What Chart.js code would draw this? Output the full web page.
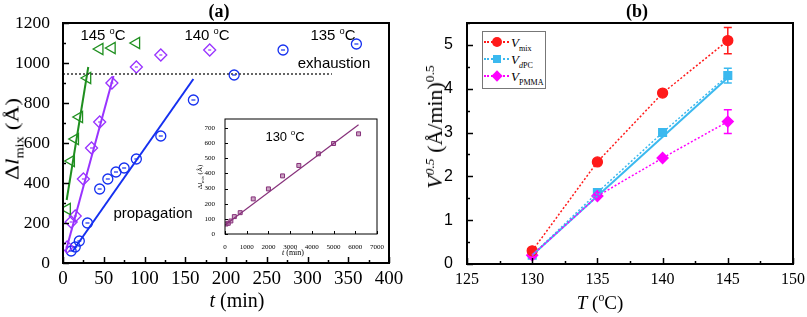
<!DOCTYPE html>
<html>
<head>
<meta charset="utf-8">
<script src="https://cdn.jsdelivr.net/npm/chart.js@4.4.0/dist/chart.umd.min.js"></script>
<style>
  html, body { margin: 0; padding: 0; background: #fff; }
  #wrap { position: relative; width: 807px; height: 317px; overflow: hidden; }
  canvas { position: absolute; }
  .t { position: absolute; transform: translate(-50%, -50%); white-space: nowrap; line-height: 1; color: #000; }
  .rot { transform: translate(-50%, -50%) rotate(-90deg); }
  .serif { font-family: "Liberation Serif", "DejaVu Serif", serif; }
  .sans { font-family: "Liberation Sans", Arial, sans-serif; }
  sup, sub { font-size: 62%; line-height: 0; }
  #legB { position: absolute; left: 482px; top: 31px; width: 62px; height: 56px; border: 1px solid #777; background: #fff; }
  .row { position: absolute; left: 0; width: 62px; height: 16px; }
  .dl { position: absolute; left: 1px; top: 7px; width: 25px; border-top: 2px dotted; }
  .mk { position: absolute; }
  .lt { position: absolute; left: 28px; top: 1px; font: 13px "Liberation Serif", serif; }
</style>
</head>
<body>
<div id="wrap">
  <canvas id="chartA" style="left:0;top:0" width="420" height="317"></canvas>
  <canvas id="chartB" style="left:400px;top:0" width="407" height="317"></canvas>
  <canvas id="inset" style="left:195px;top:110px" width="192" height="150"></canvas>

  <div class="t serif" style="left:219px;top:11px;font-size:18px;font-weight:bold">(a)</div>
  <div class="t serif" style="left:637px;top:11px;font-size:18px;font-weight:bold">(b)</div>

  <div class="t sans" style="left:103px;top:34px;font-size:15px">145 <sup>o</sup>C</div>
  <div class="t sans" style="left:207px;top:34px;font-size:15px">140 <sup>o</sup>C</div>
  <div class="t sans" style="left:333px;top:34px;font-size:15px">135 <sup>o</sup>C</div>
  <div class="t sans" style="left:334px;top:62px;font-size:15px">exhaustion</div>
  <div class="t sans" style="left:153px;top:212px;font-size:15px">propagation</div>
  <div class="t sans" style="left:285px;top:136px;font-size:13px">130 <sup>o</sup>C</div>

  <div class="t serif" style="left:237px;top:300px;font-size:20px"><i>t</i> (min)</div>
  <div class="t serif rot" data-len="82" style="left:12px;top:139px;font-size:19px">&Delta;<i>l</i><sub>mix</sub> (&Aring;)</div>
  <div class="t serif" style="left:293px;top:253px;font-size:8px"><i>t</i> (min)</div>
  <div class="t serif rot" style="left:200px;top:177px;font-size:7px">&Delta;<i>l</i><sub>mix</sub> (&Aring;)</div>

  <div class="t serif" style="left:600px;top:302px;font-size:19px"><i>T</i> (<sup>o</sup>C)</div>
  <div class="t serif rot" data-len="124" style="left:435px;top:127px;font-size:20px"><i>V</i><sup><i>0.5</i></sup> (&Aring;/min)<sup>0.5</sup></div>

  <div id="legB"></div>
</div>

<script>
// ---- panel (a): delta l_mix vs t ----
const t145 = [5, 10, 15, 20, 30, 45, 60, 90];
const l145 = [270, 510, 620, 730, 925, 1070, 1075, 1100];
const t140 = [5, 10, 15, 25, 35, 45, 60, 90, 120, 180];
const l140 = [80, 205, 235, 420, 575, 705, 900, 980, 1040, 1065];
const t135 = [10, 15, 20, 30, 45, 55, 65, 75, 90, 120, 160, 210, 270, 360];
const l135 = [60, 80, 110, 200, 370, 420, 455, 475, 520, 635, 815, 940, 1065, 1095];

// linear fits + exhaustion level
const fit145T = [4.5, 31], fit145L = [315, 980];
const fit140T = [3.5, 62], fit140L = [60, 935];
const fit135T = [12, 160], fit135L = [60, 920];
const exhaustT = [0, 330], exhaustL = [945, 945];

// inset 130 C
const t130 = [50, 150, 270, 430, 700, 1300, 2000, 2650, 3400, 4300, 5000, 6150];
const l130 = [66, 71, 86, 115, 141, 232, 298, 384, 453, 530, 598, 662];
const fit130T = [0, 6150], fit130L = [60, 722];

// ---- panel (b): V^0.5 vs T ----
const temps = [130, 135, 140, 145];
const vMix = [0.3, 2.33, 3.9, 5.1], vMixErr = [0, 0, 0, 0.3];
const vDPC = [0.2, 1.63, 3.0, 4.3], vDPCErr = [0, 0, 0, 0.17];
const vPMMA = [0.2, 1.55, 2.42, 3.25], vPMMAErr = [0, 0, 0, 0.27];
const fitDPCT = [130, 145], fitDPCV = [0.2, 4.25];

const GREEN = '#1f8f1f', PURPLE = '#9933ff', BLUE = '#1530f0', WINE = '#86307a';
const RED = '#ff1a1a', CYAN = '#3bb9ef', MAGENTA = '#ff00ff';

function xy(xs, ys){ return xs.map((x,i)=>({x:x, y:ys[i]})); }
function lineDs(xs, ys, color, width, dash){
  return {data: xy(xs, ys), showLine:true, borderColor:color, borderWidth:width, borderDash:dash||[], pointRadius:0, fill:false};
}
function ptsDs(xs, ys, o){
  return Object.assign({data: xy(xs, ys), showLine:false, pointBackgroundColor:'rgba(0,0,0,0)', pointBorderWidth:1.3}, o);
}

// box frame + inward major/minor ticks
const boxTicks = {
  id:'boxTicks',
  afterDraw(chart, args, o){
    const {ctx, chartArea:a, scales} = chart;
    ctx.save();
    ctx.strokeStyle = '#000';
    ctx.lineWidth = o.width;
    ctx.strokeRect(a.left, a.top, a.right-a.left, a.bottom-a.top);
    ctx.lineWidth = o.tickWidth || 1;
    const xs = scales.x, ys = scales.y;
    const isMajor = (v, m) => Math.abs(v/m - Math.round(v/m)) < 1e-6;
    for(let v = xs.min; v <= xs.max + 1e-9; v += o.xMinor){
      const px = Math.round(xs.getPixelForValue(v)) + 0.5;
      const len = isMajor(v, o.xMajor) ? o.major : o.minor;
      ctx.beginPath(); ctx.moveTo(px, a.bottom); ctx.lineTo(px, a.bottom-len); ctx.stroke();
    }
    for(let v = ys.min; v <= ys.max + 1e-9; v += o.yMinor){
      const py = Math.round(ys.getPixelForValue(v)) + 0.5;
      const len = isMajor(v, o.yMajor) ? o.major : o.minor;
      ctx.beginPath(); ctx.moveTo(a.left, py); ctx.lineTo(a.left+len, py); ctx.stroke();
    }
    ctx.restore();
  }
};

// the tiny bars inside the open symbols
const innerDash = {
  id:'innerDash',
  afterDatasetsDraw(chart){
    const ctx = chart.ctx;
    chart.data.datasets.forEach((ds, i)=>{
      if(!ds.innerDash) return;
      ctx.save(); ctx.strokeStyle = ds.pointBorderColor; ctx.lineWidth = 1.2;
      chart.getDatasetMeta(i).data.forEach(p=>{
        ctx.beginPath(); ctx.moveTo(p.x-ds.innerDash, p.y); ctx.lineTo(p.x+ds.innerDash, p.y); ctx.stroke();
      });
      ctx.restore();
    });
  }
};

// vertical error bars with caps
const errBars = {
  id:'errBars',
  afterDatasetsDraw(chart){
    const ctx = chart.ctx, ys = chart.scales.y;
    chart.data.datasets.forEach((ds, i)=>{
      if(!ds.errors) return;
      ctx.save(); ctx.strokeStyle = ds.pointBorderColor; ctx.lineWidth = 1.5;
      chart.getDatasetMeta(i).data.forEach((p, j)=>{
        const e = ds.errors[j]; if(!e) return;
        const y1 = ys.getPixelForValue(ds.data[j].y + e), y2 = ys.getPixelForValue(ds.data[j].y - e);
        ctx.beginPath();
        ctx.moveTo(p.x, y1); ctx.lineTo(p.x, y2);
        ctx.moveTo(p.x-4, y1); ctx.lineTo(p.x+4, y1);
        ctx.moveTo(p.x-4, y2); ctx.lineTo(p.x+4, y2);
        ctx.stroke();
      });
      ctx.restore();
    });
  }
};

const whiteBg = {
  id:'whiteBg',
  beforeDraw(chart){
    const {ctx, chartArea:a} = chart;
    ctx.save(); ctx.fillStyle = '#fff'; ctx.fillRect(a.left, a.top, a.right-a.left, a.bottom-a.top); ctx.restore();
  }
};

function axis(min, max, step, font, pad, fitFn){
  return {
    type:'linear', min:min, max:max,
    grid:{display:false}, border:{display:false},
    ticks:{stepSize:step, includeBounds:false, autoSkip:false, maxRotation:0, color:'#000', font:font, padding:pad,
      callback: v => String(v)},
    afterFit: fitFn
  };
}

// ---------- chart (a) ----------
new Chart(document.getElementById('chartA'), {
  type:'scatter',
  data:{datasets:[
    lineDs(exhaustT, exhaustL, '#333', 1.5, [2,2]),
    lineDs(fit145T, fit145L, GREEN, 2),
    lineDs(fit140T, fit140L, PURPLE, 2),
    lineDs(fit135T, fit135L, BLUE, 2),
    ptsDs(t145, l145, {pointStyle:'triangle', rotation:-90, pointRadius:6.5, pointBorderColor:GREEN}),
    ptsDs(t140, l140, {pointStyle:'rectRot', pointRadius:6, pointBorderColor:PURPLE, innerDash:1.5}),
    ptsDs(t135, l135, {pointStyle:'circle', pointRadius:5, pointBorderColor:BLUE, innerDash:2})
  ]},
  options:{
    responsive:false, animation:false,
    layout:{padding:{left:0, top:23, right:420-389, bottom:0}},
    plugins:{legend:{display:false}, tooltip:{enabled:false},
      boxTicks:{width:2, tickWidth:1.5, xMajor:50, xMinor:25, yMajor:200, yMinor:100, major:6, minor:3}},
    scales:{
      x: axis(0, 400, 50, {family:'Liberation Serif', size:19}, -3, s=>{ s.height = 317-263; s.paddingLeft = 0; s.paddingRight = 0; }),
      y: axis(0, 1200, 200, {family:'Liberation Serif', size:17.5}, 5, s=>{ s.width = 63; s.paddingTop = 0; s.paddingBottom = 0; })
    }
  },
  plugins:[boxTicks, innerDash]
});

// ---------- inset 130 C ----------
new Chart(document.getElementById('inset'), {
  type:'scatter',
  data:{datasets:[
    lineDs(fit130T, fit130L, WINE, 1.2),
    ptsDs(t130, l130, {pointStyle:'rect', pointRadius:2.8, pointBorderColor:WINE, pointBackgroundColor:'rgba(160,90,145,0.55)', pointBorderWidth:1})
  ]},
  options:{
    responsive:false, animation:false,
    layout:{padding:{left:0, top:9, right:10, bottom:0}},
    plugins:{legend:{display:false}, tooltip:{enabled:false},
      boxTicks:{width:1, tickWidth:1, xMajor:1000, xMinor:1000, yMajor:100, yMinor:100, major:3, minor:3}},
    scales:{
      x: axis(0, 7000, 1000, {family:'Liberation Serif', size:7}, 1, s=>{ s.height = 150-124; s.paddingLeft = 0; s.paddingRight = 0; }),
      y: axis(0, 760, 100, {family:'Liberation Serif', size:7}, 2, s=>{ s.width = 30; s.paddingTop = 0; s.paddingBottom = 0; })
    }
  },
  plugins:[whiteBg, boxTicks]
});

// ---------- chart (b) ----------
new Chart(document.getElementById('chartB'), {
  type:'scatter',
  data:{datasets:[
    lineDs(temps, vMix, RED, 1.5, [2,2]),
    lineDs(temps, vPMMA, MAGENTA, 1.5, [2,2]),
    lineDs(temps, vDPC, CYAN, 1.5, [2,2]),
    lineDs(fitDPCT, fitDPCV, CYAN, 2),
    ptsDs(temps, vMix, {pointStyle:'circle', pointRadius:5, pointBorderColor:RED, pointBackgroundColor:RED, errors:vMixErr}),
    ptsDs(temps, vPMMA, {pointStyle:'rectRot', pointRadius:5.5, pointBorderColor:MAGENTA, pointBackgroundColor:MAGENTA, errors:vPMMAErr}),
    ptsDs(temps, vDPC, {pointStyle:'rect', pointRadius:5.5, pointBorderColor:CYAN, pointBackgroundColor:CYAN, errors:vDPCErr})
  ]},
  options:{
    responsive:false, animation:false,
    layout:{padding:{left:0, top:23, right:407-393, bottom:0}},
    plugins:{legend:{display:false}, tooltip:{enabled:false},
      boxTicks:{width:2, tickWidth:1.5, xMajor:5, xMinor:2.5, yMajor:1, yMinor:0.5, major:6, minor:3}},
    scales:{
      x: axis(125, 150, 5, {family:'Liberation Serif', size:16}, -2, s=>{ s.height = 317-264; s.paddingLeft = 0; s.paddingRight = 0; }),
      y: axis(0, 5.5, 1, {family:'Liberation Sans', size:16}, 6, s=>{ s.width = 67; s.paddingTop = 0; s.paddingBottom = 0; })
    }
  },
  plugins:[boxTicks, errBars]
});

// ---------- legend (b) ----------
const legItems = [
  {color:RED, shape:'circle', label:'mix'},
  {color:CYAN, shape:'square', label:'<i>d</i>PC'},
  {color:MAGENTA, shape:'diamond', label:'PMMA'}
];
const legB = document.getElementById('legB');
legItems.forEach((it, i)=>{
  const row = document.createElement('div'); row.className = 'row'; row.style.top = (2 + i*17) + 'px';
  const dl = document.createElement('div'); dl.className = 'dl'; dl.style.borderTopColor = it.color;
  const mk = document.createElement('div'); mk.className = 'mk'; mk.style.background = it.color;
  if(it.shape === 'circle'){ Object.assign(mk.style, {left:'9px', top:'3px', width:'10px', height:'10px', borderRadius:'50%'}); }
  else if(it.shape === 'square'){ Object.assign(mk.style, {left:'10px', top:'4px', width:'8px', height:'8px'}); }
  else { Object.assign(mk.style, {left:'10px', top:'3.5px', width:'8px', height:'8px', transform:'rotate(45deg)'}); }
  const lt = document.createElement('div'); lt.className = 'lt'; lt.innerHTML = '<i>V</i><sub>' + it.label + '</sub>';
  row.appendChild(dl); row.appendChild(mk); row.appendChild(lt);
  legB.appendChild(row);
});

// stretch the rotated axis titles to the length they have in the figure
document.querySelectorAll('[data-len]').forEach(el=>{
  const s = (+el.dataset.len) / el.offsetWidth;
  el.style.transform = 'translate(-50%, -50%) rotate(-90deg) scaleX(' + s.toFixed(3) + ')';
});
</script>
</body>
</html>
